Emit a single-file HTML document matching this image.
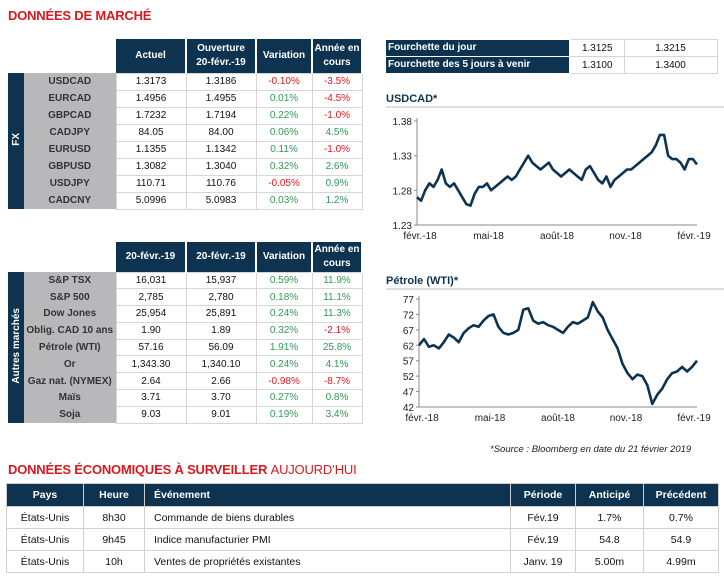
<!DOCTYPE html>
<html><head><meta charset="utf-8">
<style>
body{margin:0;width:724px;height:577px;background:#fff;position:relative;overflow:hidden;font-family:"Liberation Sans",Arial,sans-serif;}
.abs{position:absolute;}
h1{position:absolute;margin:0;font-size:13px;font-weight:bold;color:#d71920;letter-spacing:-0.2px;}
table{border-collapse:collapse;table-layout:fixed;position:absolute;font-size:10px;}
td,th{padding:0;text-align:center;overflow:hidden;white-space:nowrap;vertical-align:middle;}
th{background:#0d3350;color:#fff;font-weight:bold;border-right:2px solid #fff;line-height:14px;}
td.d{border:1px solid #d6d6d6;color:#111;}
td.l{background:#b8b8ba;color:#333;font-weight:bold;}
td.s{background:#0d3350;color:#fff;font-weight:bold;}
.r{color:#e8141c!important}.g{color:#2f9a55!important}
.vt{writing-mode:vertical-rl;transform:rotate(180deg);font-size:10px;display:inline-block;}
.ft th{border-right:2px solid #fff;border-bottom:1px solid #fff;text-align:left;padding-left:2px;}
.bt th{height:22px;border:1px solid #ccc;font-size:10.5px}
.bt td{border:1px solid #d0d0d0;height:21px;font-size:10.5px;color:#111}
</style></head><body>
<h1 style="left:8px;top:8px">DONNÉES DE MARCHÉ</h1>

<table style="left:8px;top:39px;width:354px">
<colgroup><col style="width:16px"><col style="width:92px"><col style="width:70px"><col style="width:70px"><col style="width:56px"><col style="width:50px"></colgroup>
<tr style="height:34px"><td></td><td></td><th>Actuel</th><th>Ouverture<br>20-févr.-19</th><th>Variation</th><th>Année en<br>cours</th></tr>
<tr style="height:17px"><td class="s" rowspan="8"><div class="vt">FX</div></td><td class="l">USDCAD</td><td class="d">1.3173</td><td class="d">1.3186</td><td class="d r">-0.10%</td><td class="d r">-3.5%</td></tr>
<tr style="height:17px"><td class="l">EURCAD</td><td class="d">1.4956</td><td class="d">1.4955</td><td class="d g">0.01%</td><td class="d r">-4.5%</td></tr>
<tr style="height:17px"><td class="l">GBPCAD</td><td class="d">1.7232</td><td class="d">1.7194</td><td class="d g">0.22%</td><td class="d r">-1.0%</td></tr>
<tr style="height:17px"><td class="l">CADJPY</td><td class="d">84.05</td><td class="d">84.00</td><td class="d g">0.06%</td><td class="d g">4.5%</td></tr>
<tr style="height:17px"><td class="l">EURUSD</td><td class="d">1.1355</td><td class="d">1.1342</td><td class="d g">0.11%</td><td class="d r">-1.0%</td></tr>
<tr style="height:17px"><td class="l">GBPUSD</td><td class="d">1.3082</td><td class="d">1.3040</td><td class="d g">0.32%</td><td class="d g">2.6%</td></tr>
<tr style="height:17px"><td class="l">USDJPY</td><td class="d">110.71</td><td class="d">110.76</td><td class="d r">-0.05%</td><td class="d g">0.9%</td></tr>
<tr style="height:17px"><td class="l">CADCNY</td><td class="d">5.0996</td><td class="d">5.0983</td><td class="d g">0.03%</td><td class="d g">1.2%</td></tr>
</table>

<table style="left:8px;top:242px;width:354px">
<colgroup><col style="width:16px"><col style="width:92px"><col style="width:70px"><col style="width:70px"><col style="width:56px"><col style="width:50px"></colgroup>
<tr style="height:30px"><td></td><td></td><th>20-févr.-19</th><th>20-févr.-19</th><th>Variation</th><th>Année en<br>cours</th></tr>
<tr style="height:16.8px"><td class="s" rowspan="9"><div class="vt">Autres marchés</div></td><td class="l">S&amp;P TSX</td><td class="d">16,031</td><td class="d">15,937</td><td class="d g">0.59%</td><td class="d g">11.9%</td></tr>
<tr style="height:16.8px"><td class="l">S&amp;P 500</td><td class="d">2,785</td><td class="d">2,780</td><td class="d g">0.18%</td><td class="d g">11.1%</td></tr>
<tr style="height:16.8px"><td class="l">Dow Jones</td><td class="d">25,954</td><td class="d">25,891</td><td class="d g">0.24%</td><td class="d g">11.3%</td></tr>
<tr style="height:16.8px"><td class="l">Oblig. CAD 10 ans</td><td class="d">1.90</td><td class="d">1.89</td><td class="d g">0.32%</td><td class="d r">-2.1%</td></tr>
<tr style="height:16.8px"><td class="l">Pétrole (WTI)</td><td class="d">57.16</td><td class="d">56.09</td><td class="d g">1.91%</td><td class="d g">25.8%</td></tr>
<tr style="height:16.8px"><td class="l">Or</td><td class="d">1,343.30</td><td class="d">1,340.10</td><td class="d g">0.24%</td><td class="d g">4.1%</td></tr>
<tr style="height:16.8px"><td class="l">Gaz nat. (NYMEX)</td><td class="d">2.64</td><td class="d">2.66</td><td class="d r">-0.98%</td><td class="d r">-8.7%</td></tr>
<tr style="height:16.8px"><td class="l">Maïs</td><td class="d">3.71</td><td class="d">3.70</td><td class="d g">0.27%</td><td class="d g">0.8%</td></tr>
<tr style="height:16.8px"><td class="l">Soja</td><td class="d">9.03</td><td class="d">9.01</td><td class="d g">0.19%</td><td class="d g">3.4%</td></tr>
</table>

<table class="ft" style="left:386px;top:39px;width:331px">
<colgroup><col style="width:184px"><col style="width:54px"><col style="width:93px"></colgroup>
<tr style="height:17px"><th>Fourchette du jour</th><td class="d">1.3125</td><td class="d">1.3215</td></tr>
<tr style="height:17px"><th>Fourchette des 5 jours à venir</th><td class="d">1.3100</td><td class="d">1.3400</td></tr>
</table>

<svg class="abs" style="left:0;top:0" width="724" height="577" id="charts"></svg>

<h1 style="left:8px;top:462px;font-size:13px">DONNÉES ÉCONOMIQUES À SURVEILLER <span style="font-weight:normal">AUJOURD’HUI</span></h1>

<table class="bt" style="left:6px;top:483px;width:712px">
<colgroup><col style="width:77px"><col style="width:61px"><col style="width:366px"><col style="width:65px"><col style="width:68px"><col style="width:75px"></colgroup>
<tr><th>Pays</th><th>Heure</th><th style="text-align:left;padding-left:9px">Événement</th><th>Période</th><th>Anticipé</th><th>Précédent</th></tr>
<tr><td>États-Unis</td><td>8h30</td><td style="text-align:left;padding-left:9px">Commande de biens durables</td><td>Fév.19</td><td>1.7%</td><td>0.7%</td></tr>
<tr><td>États-Unis</td><td>9h45</td><td style="text-align:left;padding-left:9px">Indice manufacturier PMI</td><td>Fév.19</td><td>54.8</td><td>54.9</td></tr>
<tr><td>États-Unis</td><td>10h</td><td style="text-align:left;padding-left:9px">Ventes de propriétés existantes</td><td>Janv. 19</td><td>5.00m</td><td>4.99m</td></tr>
</table>

<script>
const xLabels=["févr.-18","mai-18","août-18","nov.-18","févr.-19"];
const usdTicks=[1.23,1.28,1.33,1.38];
const oilTicks=[42,47,52,57,62,67,72,77];
const usdcad=[1.27,1.265,1.28,1.29,1.285,1.295,1.31,1.29,1.285,1.29,1.28,1.27,1.26,1.258,1.275,1.285,1.285,1.29,1.28,1.285,1.29,1.295,1.30,1.295,1.30,1.31,1.32,1.33,1.32,1.315,1.31,1.315,1.32,1.31,1.305,1.30,1.305,1.31,1.305,1.30,1.295,1.31,1.315,1.305,1.295,1.29,1.30,1.285,1.295,1.30,1.305,1.31,1.31,1.315,1.32,1.325,1.33,1.335,1.345,1.36,1.36,1.33,1.325,1.325,1.32,1.31,1.325,1.325,1.3173];
const oil=[62,64,61.5,62,61,63,65.5,64.5,63,66,67.5,68.5,68,70,71.5,72,68,66,65.5,66,67,73.5,74,70,69,69.5,68.5,68,67,66,68,69.5,69,70,71,76,73,71,67,64,61,56,53,51,52.5,52,49,43,46,48,51,53,53.5,55,53.5,55,57];
const svg=document.getElementById('charts');
const NS='http://www.w3.org/2000/svg';
function mk(t,a){const e=document.createElementNS(NS,t);for(const k in a)e.setAttribute(k,a[k]);svg.appendChild(e);return e;}
function chart(o){
  const t=mk('text',{x:386,y:o.titleY,'font-size':11,'font-weight':'bold',fill:'#0d3350','font-family':'Liberation Sans'});
  t.textContent=o.title;
  
  
  const sep=mk('line',{x1:386,x2:724,y1:o.sepY,y2:o.sepY,stroke:'#bbb'});
  
  
  const y=v=>o.y0+(v-o.min)/(o.max-o.min)*(o.y1-o.y0);
  const x=i=>o.x0+i/(o.data.length-1)*(o.x1-o.x0);
  const ax=mk('path',{d:`M${o.x0},${o.y1-3}V${o.y0}H${o.x1}`,stroke:'#888',fill:'none'});
  
  
  o.ticks.forEach(v=>{
    const tk=mk('line',{x1:o.x0-3,x2:o.x0,y1:y(v),y2:y(v),stroke:'#888'});
    
    
    const l=mk('text',{x:o.x0-5,y:y(v)+4,'text-anchor':'end','font-size':10,fill:'#222','font-family':'Liberation Sans'});
    l.textContent=o.fmt(v);
    
    
  });
  xLabels.forEach((s,i)=>{
    const xx=o.x0+3+i/(xLabels.length-1)*(o.x1-o.x0-6);
    const l=mk('text',{x:xx,y:o.y0+14,'text-anchor':'middle','font-size':10,fill:'#222','font-family':'Liberation Sans'});
    l.textContent=s;
    
    
  });
  const p=mk('path',{d:o.data.map((v,i)=>(i?'L':'M')+x(i).toFixed(1)+','+y(v).toFixed(1)).join(''),stroke:'#0d3350','stroke-width':2.6,fill:'none','stroke-linejoin':'round'});
  
  
}
chart({name:'usdcad-chart',title:'USDCAD*',titleY:102,sepY:107,x0:417,x1:697,y0:225,y1:121,min:1.23,max:1.38,ticks:usdTicks,data:usdcad,fmt:v=>v.toFixed(2)});
chart({name:'oil-chart',title:'Pétrole (WTI)*',titleY:284,sepY:289,x0:419,x1:697,y0:407,y1:299,min:42,max:77,ticks:oilTicks,data:oil,fmt:v=>v});
const src=mk('text',{x:490,y:452,'font-size':9.5,'font-style':'italic',fill:'#222','font-family':'Liberation Sans'});
src.textContent='*Source : Bloomberg en date du  21 février 2019';


</script>
</body></html>
